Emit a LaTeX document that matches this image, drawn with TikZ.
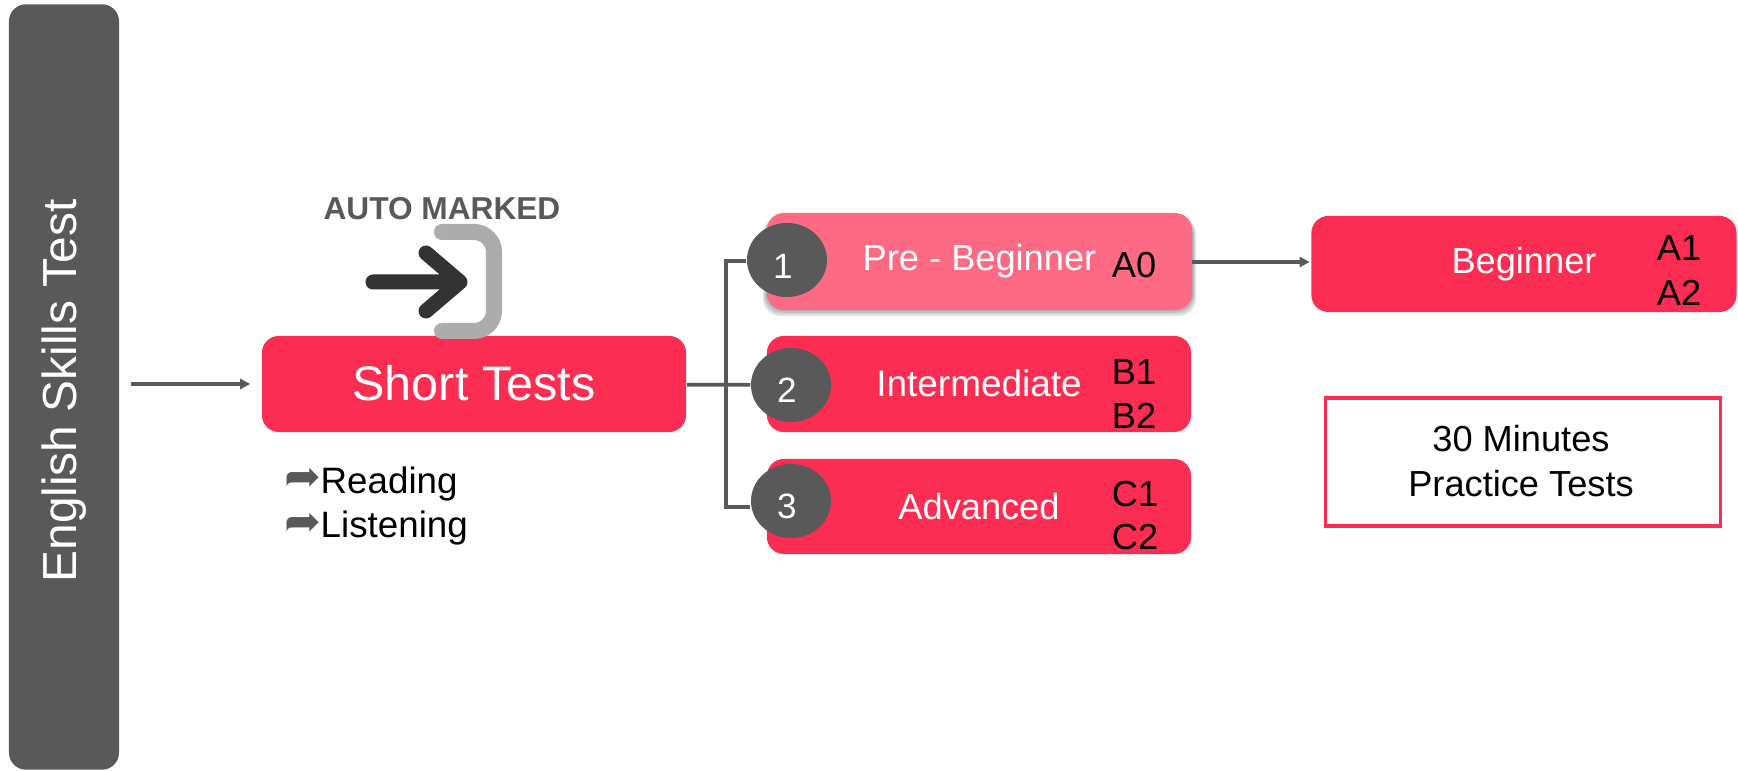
\documentclass[tikz,border=0pt]{standalone}
\usepackage{fontspec}
\setmainfont{Liberation Sans}
\newfontfamily\symfont{DejaVu Sans}
\usetikzlibrary{shapes,arrows.meta}

\definecolor{testRed}{HTML}{FB2D52}
\definecolor{testPink}{HTML}{FC6A84}
\definecolor{testGray}{HTML}{595959}
\definecolor{iconDark}{HTML}{333333}
\definecolor{iconLight}{HTML}{ACACAC}

\tikzset{
    levelbox/.style={fill=testRed, rounded corners=0.17cm, inner sep=0pt, text=white,
        minimum width=4.24cm, minimum height=0.96cm, font=\fontsize{10.3pt}{12pt}\selectfont},
    numdot/.style={ellipse, fill=testGray, inner sep=0pt, minimum width=0.80cm, minimum height=0.74cm},
    digit/.style={inner sep=0pt, text=white, font=\fontsize{10pt}{12pt}\selectfont},
    grade/.style={inner sep=0pt, text=black, font=\fontsize{10.3pt}{12pt}\selectfont},
    plain/.style={inner sep=0pt, anchor=base west, text=black, font=\fontsize{10.45pt}{12pt}\selectfont},
    tick/.style={inner sep=0pt, text=testGray, font=\symfont\fontsize{12.5pt}{14pt}\selectfont},
    branch/.style={draw=testGray, line width=1.05pt},
    flow/.style={draw=testGray, line width=1.05pt, -{Triangle[length=0.10cm,width=0.10cm]}}
}

\begin{document}
\begin{tikzpicture}[x=0.01cm, y=-0.01cm]
    \useasboundingbox (0,0) rectangle (1738,771);

    % side bar
    \node[fill=testGray, rounded corners=0.17cm, inner sep=0pt, rotate=90,
          minimum width=7.65cm, minimum height=1.10cm] (skills) at (64,387) {};
    \node[inner sep=0pt, text=white, rotate=90, font=\fontsize{13.6pt}{15pt}\selectfont] (skillsname) at (64,391) {English Skills Test};

    % soft shadow under the first level
    \foreach \s in {0,1,...,4} {
        \fill[black, opacity=0.09, rounded corners=0.17cm]
            (767-\s,217) rectangle (1192+\s,309+1.8*\s);
    }

    % boxes
    \node[levelbox, font=\fontsize{13.8pt}{15pt}\selectfont] (short) at (474,384) {\raisebox{0.6pt}{Short Tests}};
    \node[levelbox, fill=testPink, minimum width=4.25cm, minimum height=0.97cm] (pre) at (979.5,261.5) {\raisebox{-0.6pt}{Pre - Beginner}};
    \node[levelbox, font=\fontsize{10.5pt}{12pt}\selectfont] (inter) at (979,384) {\raisebox{0.3pt}{Intermediate}};
    \node[levelbox, minimum height=0.95cm] (adv) at (979,506.5) {\raisebox{0.3pt}{Advanced}};
    \node[levelbox, minimum width=4.25cm] (begin) at (1524,264) {\raisebox{-0.6pt}{Beginner}};
    \node[draw=testRed, line width=1.05pt, inner sep=0pt, minimum width=3.95cm, minimum height=1.28cm] (practice) at (1523,462) {};

    % numbers
    \node[numdot] (num1) at (787,260) {};
    \node[numdot] (num2) at (791,385) {};
    \node[numdot] (num3) at (791,501) {};
    \node[digit] (digit1) at (783,266) {1};
    \node[digit] (digit2) at (787,390) {2};
    \node[digit] (digit3) at (787,506) {3};

    % grades
    \node[grade] (a0) at (1134,265) {A0};
    \node[grade] (b1) at (1134,372) {B1};
    \node[grade] (b2) at (1134,416) {B2};
    \node[grade] (c1) at (1135,494) {C1};
    \node[grade] (c2) at (1135,537) {C2};
    \node[grade] (a1) at (1679,248) {A1};
    \node[grade] (a2) at (1679,293) {A2};

    % box text
    \node[grade] (minutes) at (1521,439) {30 Minutes};
    \node[grade] (tests) at (1521,484) {Practice Tests};

    % skill list
    \node[tick] (tick1) at (303,480) {➦};
    \node[tick] (tick2) at (303,525) {➦};
    \node[plain] (reading) at (320,494) {Reading};
    \node[plain] (listening) at (320,538) {Listening};

    % connectors
    \coordinate (trunktop) at (726,261);
    \coordinate (trunkbot) at (726,507);
    \coordinate (barout) at (131,384);
    \coordinate (preout) at (1192,262);
    \draw[branch] (short) -- (num2);
    \draw[branch] (num1.west |- trunktop) -- (trunktop) -- (trunkbot) -- (trunkbot -| num3.west);
    \draw[flow, shorten >=0.11cm] (barout) -- (short);
    \draw[flow, shorten >=0.01cm] (preout) -- (preout -| begin.west);

    % auto marked icon
    \node[inner sep=0pt, text=testGray, font=\bfseries\fontsize{9pt}{11pt}\selectfont] (auto) at (442,209) {AUTO MARKED};
    \coordinate (brackettop) at (442,232);
    \coordinate (bracketbot) at (442,331);
    \coordinate (shaftin) at (373,282);
    \coordinate (shafttip) at (460,282);
    \draw[iconLight, line width=0.16cm, line cap=round, rounded corners=0.2cm]
        (brackettop) -- (494,232) -- (494,331) -- (bracketbot);
    \draw[iconDark, line width=0.15cm, line cap=round, line join=round]
        (shaftin) -- (shafttip) (426,253) -- (shafttip) -- (426,311);
\end{tikzpicture}
\end{document}
